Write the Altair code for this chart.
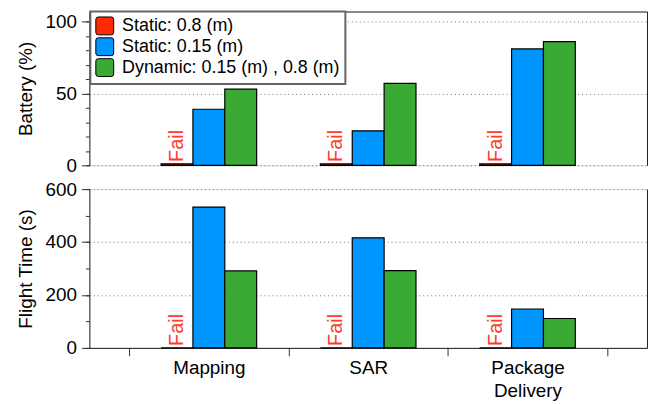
import altair as alt
import pandas as pd

categories = ["Mapping", "SAR", "Package Delivery"]
series = ["Static: 0.8 (m)", "Static: 0.15 (m)", "Dynamic: 0.15 (m) , 0.8 (m)"]
colors = ["#FF2A00", "#0096FF", "#3AAA35"]

battery_static08 = [1, 1, 1]
battery_static015 = [39, 24, 81]
battery_dynamic = [53, 57, 86]

flight_static08 = [0, 0, 0]
flight_static015 = [532, 416, 147]
flight_dynamic = [291, 292, 111]

fail_text = "Fail"
battery_major = [0, 50, 100]
battery_minor = [0, 10, 20, 30, 40, 50, 60, 70, 80, 90, 100]
flight_major = [0, 200, 400, 600]
flight_minor = [0, 100, 200, 300, 400, 500, 600]

rows = []
bat = [battery_static08, battery_static015, battery_dynamic]
fl = [flight_static08, flight_static015, flight_dynamic]
for si, s in enumerate(series):
    for ci, c in enumerate(categories):
        rows.append({
            "category": c,
            "series": s,
            "battery": bat[si][ci],
            "flight": fl[si][ci],
            "fail": fail_text if si == 0 else "",
        })
df = pd.DataFrame(rows)

FONT = "Liberation Sans"
ROUND_SQ = ("M -0.72 -1 L 0.72 -1 Q 1 -1 1 -0.72 L 1 0.72 Q 1 1 0.72 1 "
            "L -0.72 1 Q -1 1 -1 0.72 L -1 -0.72 Q -1 -1 -0.72 -1 Z")

xscale = alt.Scale(paddingInner=0, paddingOuter=0.25)
xoff = alt.XOffset("series:N", sort=series,
                   scale=alt.Scale(paddingOuter=1, paddingInner=0))


def panel(field, domain, major, minor, title, show_x, legend):
    yscale = alt.Scale(domain=domain, nice=False, zero=True)
    color = alt.Color("series:N", sort=series,
                      scale=alt.Scale(domain=series, range=colors),
                      legend=legend)
    if show_x:
        xaxis = alt.Axis(orient="bottom", title=None, tickBand="extent",
                         tickSize=8, tickColor="#333", domainColor="#222",
                         labelFontSize=19, labelColor="black", labelAngle=0,
                         labelPadding=3, labelLineHeight=23,
                         labelExpr="datum.label == 'Package Delivery' ? ['Package', 'Delivery'] : datum.label",
                         grid=False)
    else:
        xaxis = alt.Axis(orient="top", title=None, ticks=False, labels=False,
                         domain=True, domainColor="#222", grid=False)
    bars = alt.Chart(df).mark_bar(stroke="black", strokeWidth=1.2).encode(
        x=alt.X("category:N", sort=categories, scale=xscale, axis=xaxis),
        xOffset=xoff,
        y=alt.Y(f"{field}:Q", scale=yscale,
                axis=alt.Axis(orient="left", values=major, title=title,
                              titleFontSize=19, titleFontWeight="normal",
                              titleColor="black", titlePadding=10,
                              labelFontSize=19, labelColor="black",
                              labelPadding=5, tickSize=8, tickColor="#333",
                              domainColor="#222", grid=True,
                              gridDash=[1, 3], gridColor="#777",
                              gridWidth=1)),
        color=color,
    )
    text = alt.Chart(df).transform_filter("datum.fail != ''").mark_text(
        angle=270, align="left", baseline="middle", dx=2,
        fontSize=20, color="#FF3B30", font=FONT,
    ).encode(
        x=alt.X("category:N", sort=categories, scale=xscale, axis=None),
        xOffset=xoff,
        y=alt.Y(f"{field}:Q", scale=yscale,
                axis=alt.Axis(orient="left", values=minor, title=None,
                              labels=False, tickSize=4, tickColor="#333",
                              domain=False, grid=False)),
        text="fail:N",
    )
    border = alt.Chart(df).mark_bar(opacity=0).encode(
        x=alt.X("category:N", sort=categories, scale=xscale, axis=None),
        xOffset=xoff,
        y=alt.Y(f"{field}:Q", scale=yscale,
                axis=alt.Axis(orient="right", title=None, labels=False,
                              ticks=False, domain=True, domainColor="#222",
                              grid=False)),
    )
    return alt.layer(bars, text, border).resolve_axis(
        x="independent", y="independent"
    ).properties(width=562, height=155 if not show_x else 160)


legend = alt.Legend(
    title=None, orient="none", legendX=1, legendY=0,
    fillColor="white", strokeColor="#666",
    padding=5, symbolType=ROUND_SQ, symbolSize=324,
    symbolStrokeColor="black", symbolStrokeWidth=1, symbolOpacity=1,
    labelFontSize=18, labelColor="black", labelOffset=8, rowPadding=-2,
    labelLimit=400,
)

top = panel("battery", [0, 107], battery_major, battery_minor,
            "Battery (%)", False, legend)
bottom = panel("flight", [0, 600], flight_major, flight_minor,
               "Flight Time (s)", True, None)

chart = alt.vconcat(top, bottom, spacing=24, bounds="flush").resolve_legend(
    color="independent"
).properties(
    padding={"left": 7, "top": 0, "right": 0, "bottom": 0}
).configure_view(stroke=None).configure(font=FONT).configure_legend(
    strokeWidth=2
)

chart.save("out.html", embed_options={"renderer": "svg", "actions": False})
